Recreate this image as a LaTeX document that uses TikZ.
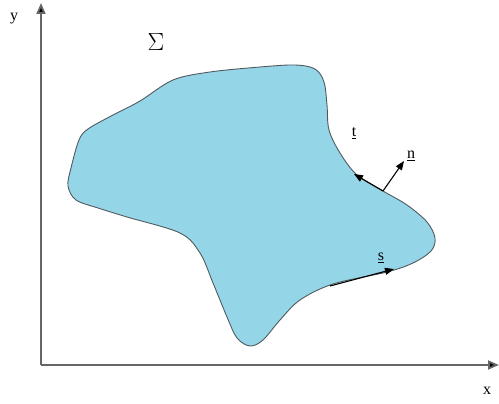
\documentclass[tikz,border=0pt]{standalone}
\usepackage{fontspec}
\setmainfont{Liberation Serif}
\usetikzlibrary{arrows.meta}
\definecolor{regionblue}{RGB}{148,214,232}
\definecolor{edgegray}{RGB}{80,90,95}
\begin{document}
\begin{tikzpicture}[x=1pt,y=-1pt,
  axis/.style={draw=black!60,line width=1.8pt,-{Triangle[length=11pt,width=9pt,fill=black]}},
  vec/.style={draw=black,line width=1.1pt,-{Triangle[length=9pt,width=7pt]}},
  lbl/.style={font=\fontsize{16}{16}\selectfont,inner sep=1pt}]
\useasboundingbox (0,0) rectangle (499,404);
\coordinate (O) at (41,365);
\coordinate (Y) at (41,3);
\coordinate (X) at (499,365);
\draw[axis] (O) -- (Y);
\draw[axis] (O) -- (X);
\node[lbl] (ylab) at (14,19) {y};
\node[lbl] (xlab) at (487,391) {x};
\draw[fill=regionblue,draw=edgegray,line width=0.9pt]
  plot[smooth cycle,tension=0.55] coordinates {
  (113,115) (140,101) (173,80) (210,72) (260,67) (295,65) (315,69) (324,82)
  (327,105) (329,130) (340,153) (357,175) (383,191) (407,205) (427,222)
  (435,238) (431,251) (413,263) (387,272) (333,284) (300,300)
  (280,320) (263,340) (250,346) (237,338) (227,317) (213,283) (200,253)
  (180,233) (127,217) (98,208) (76,200) (68,186) (71,168) (79,140) (88,129)};
\node[font=\fontsize{28}{28}\selectfont,inner sep=0pt] (sigma) at (156,42) {$\Sigma$};
\coordinate (nb) at (383,191);
\coordinate (nt) at (404,161);
\coordinate (tt) at (354,174);
\coordinate (sb) at (330,286);
\coordinate (st) at (394,269);
\draw[vec] (nb) -- (nt);
\draw[vec] (nb) -- (tt);
\draw[vec] (sb) -- (st);
\node[lbl] (tlab) at (354,133) {\underline{t}};
\node[lbl] (nlab) at (411,156) {\underline{n}};
\node[lbl] (slab) at (381,258) {\underline{s}};
\end{tikzpicture}
\end{document}
